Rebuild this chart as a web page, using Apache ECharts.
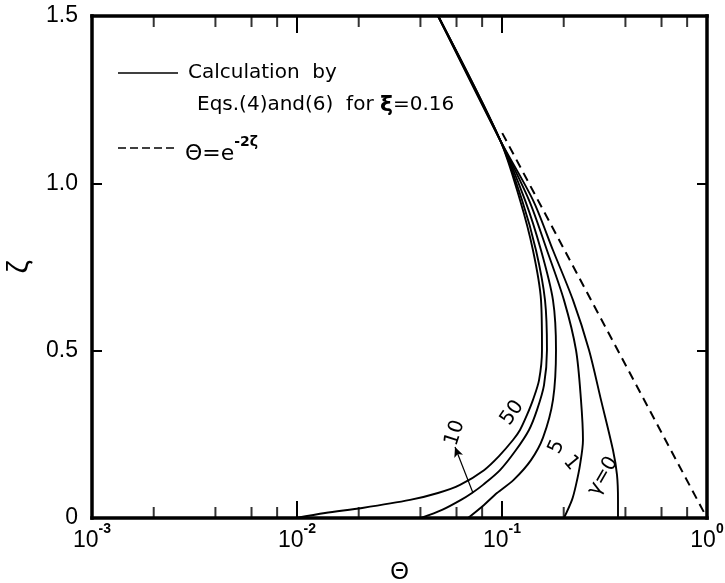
<!DOCTYPE html>
<html><head><meta charset="utf-8">
<script src="https://cdn.jsdelivr.net/npm/echarts@6/dist/echarts.min.js"></script>
<style>html,body{margin:0;padding:0;background:#fff}#c{width:725px;height:583px}</style>
</head><body><div id="c"></div>
<script>
// ---- data ----
const yTickValues = [0, 0.5, 1.0, 1.5];
const xDecadeTicks = [0.001, 0.01, 0.1, 1];
const minorTickValues = [0.002,0.004,0.006,0.008,0.02,0.04,0.06,0.08,0.2,0.4,0.6,0.8];

const theta_g0 = [0.0488, 0.0978, 0.1416, 0.1773, 0.2220, 0.2657, 0.3040, 0.3478, 0.3639, 0.3680, 0.3680];
const zeta_g0  = [1.5, 1.13, 0.95, 0.80, 0.651, 0.502, 0.353, 0.203, 0.129, 0.054, 0];

const theta_g1 = [0.0488, 0.0978, 0.1354, 0.1657, 0.2006, 0.2296, 0.2428, 0.2483, 0.2401, 0.2296, 0.2195, 0.2006];
const zeta_g1  = [1.5, 1.13, 0.95, 0.80, 0.651, 0.502, 0.353, 0.233, 0.158, 0.099, 0.054, 0];

const theta_g5 = [0.0488, 0.0978, 0.1295, 0.1550, 0.1773, 0.1834, 0.1773, 0.1585, 0.1385, 0.1140, 0.0945, 0.0817, 0.0683];
const zeta_g5  = [1.5, 1.13, 0.95, 0.80, 0.651, 0.502, 0.353, 0.240, 0.173, 0.114, 0.0747, 0.039, 0];

const theta_g10 = [0.0488, 0.0978, 0.1252, 0.1465, 0.1621, 0.1657, 0.1603, 0.1482, 0.1354, 0.1170, 0.0978, 0.0808, 0.0714, 0.0631, 0.0510, 0.0403];
const zeta_g10  = [1.5, 1.13, 0.95, 0.80, 0.651, 0.502, 0.397, 0.323, 0.263, 0.203, 0.143, 0.099, 0.0747, 0.054, 0.024, 0];

const theta_g50 = [0.0488, 0.0978, 0.1224, 0.1416, 0.1550, 0.1567, 0.1516, 0.1416, 0.1324, 0.1224, 0.1131, 0.0967, 0.0817, 0.0624, 0.0487, 0.0356, 0.0208, 0.0137, 0.0099];
const zeta_g50  = [1.5, 1.13, 0.95, 0.80, 0.651, 0.502, 0.412, 0.353, 0.308, 0.263, 0.233, 0.185, 0.143, 0.099, 0.0747, 0.054, 0.030, 0.015, 0];

// Θ = e^{-2ζ} reference line (straight on a log axis)
const dashedTheta = [0.1003, 1.0];
const dashedZeta  = [1.15, 0.0];

// curve labels: text, Θ, ζ, rotation (deg)
const labelText  = ['50', '10', '5', '1', 'γ=0'];
const labelTheta = [0.1122, 0.0590, 0.1850, 0.2171, 0.311];
const labelZeta  = [0.314, 0.254, 0.212, 0.164, 0.125];
const labelRot   = [55, 72, 65, -50, 60];

// arrow from γ=10 curve toward its label
const arrowTheta = [0.0722, 0.0590];
const arrowZeta  = [0.0747, 0.212];

// ---- chart ----
const zip = (a, b) => a.map((v, i) => [v, b[i]]);
const FONT = 'Liberation Sans';
const LFONT = 'DejaVu Sans';

const curveList = [
  {name: 'γ=0', d: zip(theta_g0, zeta_g0)},
  {name: 'γ=1', d: zip(theta_g1, zeta_g1)},
  {name: 'γ=5', d: zip(theta_g5, zeta_g5)},
  {name: 'γ=10', d: zip(theta_g10, zeta_g10)},
  {name: 'γ=50', d: zip(theta_g50, zeta_g50)}
];

const xLabelFmt = v => {
  const e = Math.round(Math.log10(v));
  return '{a|10}{b|' + (e === 0 ? '0' : String(e)) + '}';
};
const axisLineStyle = {color: '#000', width: 3.5, cap: 'square'};

const chart = echarts.init(document.getElementById('c'));
const series = [];
series.push({
  type: 'line', name: 'dashed', data: zip(dashedTheta, dashedZeta),
  showSymbol: false, symbol: 'none', silent: true,
  lineStyle: {color: '#000', width: 2, type: [9, 6]}
});
curveList.forEach(c => {
  const s = {
    type: 'line', name: c.name, data: c.d, showSymbol: false, symbol: 'none',
    smooth: 0.3, silent: true,
    lineStyle: {color: '#000', width: 1.9}
  };
  if (c.name === 'γ=10') {
    s.markLine = {
      silent: true, symbol: ['none', 'arrow'], symbolSize: [7, 10],
      label: {show: false},
      lineStyle: {color: '#000', width: 1.2, type: 'solid'},
      data: [[{coord: [arrowTheta[0], arrowZeta[0]]}, {coord: [arrowTheta[1], arrowZeta[1]]}]]
    };
  }
  series.push(s);
});
series.push({
  type: 'scatter', name: 'minorBottom', silent: true,
  data: minorTickValues.map(v => [v, yTickValues[0]]),
  symbol: 'rect', symbolSize: [2, 11], symbolOffset: [0, -5.5],
  itemStyle: {color: '#000'}, z: 5
});
series.push({
  type: 'scatter', name: 'minorTop', silent: true,
  data: minorTickValues.map(v => [v, yTickValues[yTickValues.length - 1]]),
  symbol: 'rect', symbolSize: [2, 11], symbolOffset: [0, 5.5],
  itemStyle: {color: '#000'}, z: 5
});

const xBase = {
  type: 'log', logBase: 10, min: xDecadeTicks[0], max: xDecadeTicks[xDecadeTicks.length - 1],
  splitLine: {show: false},
  axisLine: {show: true, onZero: false, lineStyle: axisLineStyle},
  axisTick: {show: true, inside: true, length: 17, lineStyle: {color: '#000', width: 2}},
  minorTick: {show: false}
};
const yBase = {
  type: 'value', min: yTickValues[0], max: yTickValues[yTickValues.length - 1], interval: 0.5,
  splitLine: {show: false},
  axisLine: {show: true, onZero: false, lineStyle: axisLineStyle},
  axisTick: {show: true, inside: true, length: 10, lineStyle: {color: '#000', width: 2}}
};

chart.setOption({
  animation: false,
  backgroundColor: '#fff',
  grid: {left: 92, right: 18, top: 16, bottom: 65, containLabel: false, outerBoundsMode: 'none'},
  xAxis: [
    Object.assign({}, xBase, {
      position: 'bottom',
      axisLabel: {
        show: true, margin: 4, formatter: xLabelFmt, color: '#000',
        rich: {
          a: {fontFamily: FONT, fontSize: 23, color: '#000', lineHeight: 30, verticalAlign: 'bottom'},
          b: {fontFamily: FONT, fontSize: 14, color: '#000', lineHeight: 14, verticalAlign: 'top', fontWeight: 'bold'}
        }
      },
      name: 'Θ', nameLocation: 'middle', nameGap: 42,
      nameTextStyle: {fontFamily: FONT, fontSize: 24, color: '#000'}
    }),
    Object.assign({}, xBase, {position: 'top', axisLabel: {show: false}})
  ],
  yAxis: [
    Object.assign({}, yBase, {
      position: 'left',
      axisLabel: {
        show: true, margin: 14, color: '#000', fontFamily: FONT, fontSize: 23,
        formatter: v => (v === 0 ? '0' : v.toFixed(1))
      },
      name: 'ζ', nameLocation: 'middle', nameGap: 52, nameRotate: 90,
      nameTextStyle: {fontFamily: FONT, fontSize: 30, color: '#000'}
    }),
    Object.assign({}, yBase, {position: 'right', axisLabel: {show: false}})
  ],
  series: series
});

// legend and curve labels
const graphics = [
  {type: 'line', shape: {x1: 118, y1: 73, x2: 178, y2: 73}, style: {stroke: '#000', lineWidth: 1.3}, silent: true},
  {type: 'text', x: 188, y: 73, silent: true,
    style: {text: 'Calculation  by', font: '20px "' + LFONT + '"', fill: '#000', verticalAlign: 'middle', textVerticalAlign: 'middle'}},
  {type: 'text', x: 197, y: 105, silent: true,
    style: {text: '{n|Eqs.(4)and(6)  for }{x|ξ}{n|=0.16}', font: '20px "' + LFONT + '"', fill: '#000',
      verticalAlign: 'middle', textVerticalAlign: 'middle',
      rich: {n: {fontFamily: LFONT, fontSize: 20, fill: '#000', color: '#000'},
             x: {fontFamily: LFONT, fontSize: 22, fontWeight: 'bold', fill: '#000', color: '#000'}}}},
  {type: 'line', shape: {x1: 118, y1: 148, x2: 177, y2: 148}, style: {stroke: '#000', lineWidth: 1.3, lineDash: [8, 4]}, silent: true},
  {type: 'text', x: 185, y: 150, silent: true,
    style: {text: '{a|Θ}{a|=e}{b|-2ζ}', fill: '#000', verticalAlign: 'middle', textVerticalAlign: 'middle',
      rich: {a: {fontFamily: LFONT, fontSize: 22, color: '#000', lineHeight: 30, verticalAlign: 'bottom'},
             b: {fontFamily: LFONT, fontSize: 14, fontWeight: 'bold', color: '#000', lineHeight: 14, verticalAlign: 'top'}}}}
];
labelText.forEach((t, i) => {
  const p = chart.convertToPixel({xAxisIndex: 0, yAxisIndex: 0}, [labelTheta[i], labelZeta[i]]);
  graphics.push({
    type: 'text', x: p[0], y: p[1], rotation: labelRot[i] * Math.PI / 180, silent: true,
    style: {text: t, font: '20px "' + LFONT + '"', fill: '#000',
      align: 'center', verticalAlign: 'middle', textAlign: 'center', textVerticalAlign: 'middle'}
  });
});
chart.setOption({graphic: graphics});
</script>
</body></html>
